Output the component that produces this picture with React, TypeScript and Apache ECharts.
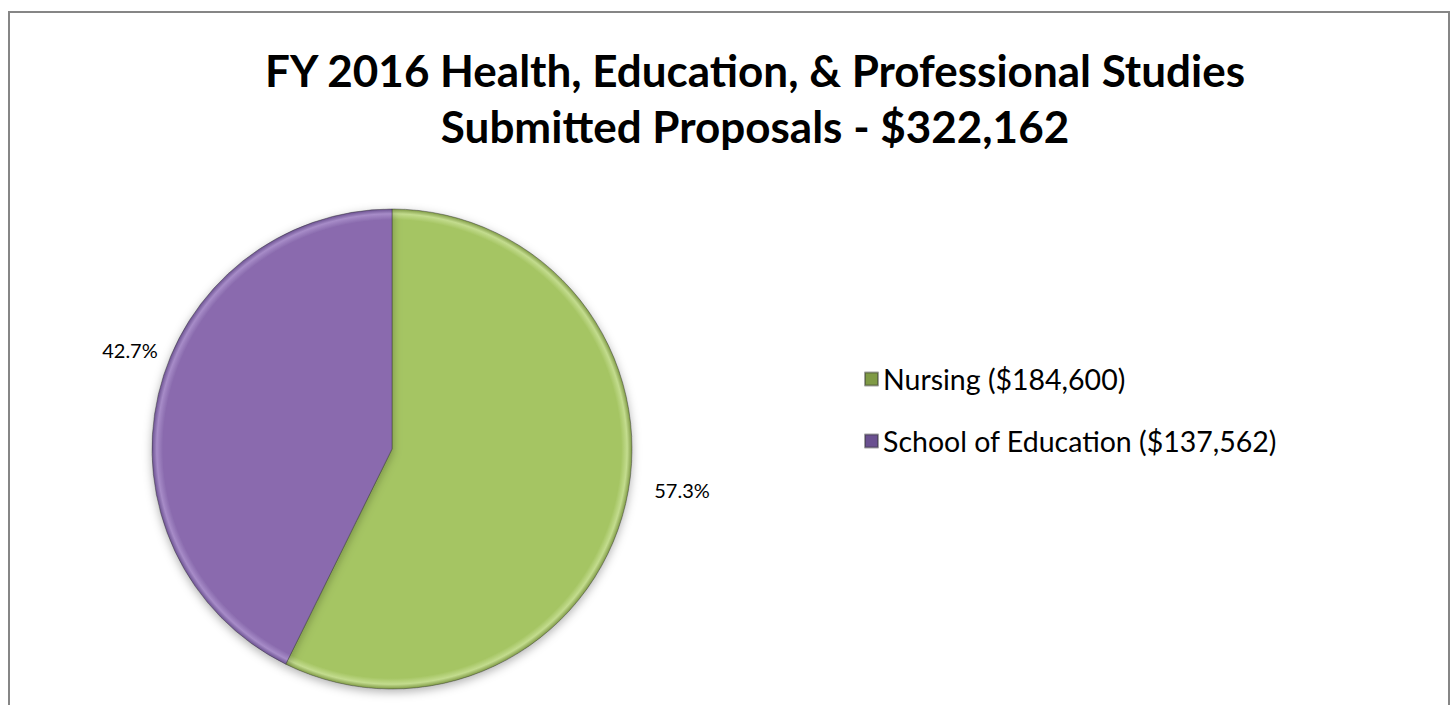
import React, { useEffect, useRef } from "react";
import * as echarts from "echarts";

const titleLines = [
  "FY 2016 Health, Education, & Professional Studies",
  "Submitted Proposals - $322,162",
];
const categories = ["Nursing", "School of Education"];
const amounts = [184600, 137562];
const sliceColors = ["#A5C563", "#8A6BAE"];
const rimLight = ["#C3DC8E", "#A78CC8"];
const rimDark = ["#7F9A45", "#6A5090"];

const FONT = "Lato, 'Noto Sans', sans-serif";
const CX = 392;
const CY = 449;
const R = 240;

export default function App() {
  const ref = useRef<HTMLDivElement>(null);

  useEffect(() => {
    document.body.style.margin = "0";
    if (!ref.current) return;
    const chart = echarts.init(ref.current, undefined, { renderer: "svg" });
    const total = amounts.reduce((a, b) => a + b, 0);
    const fmtMoney = (v: number) => "$" + v.toLocaleString("en-US");

    const fill = (i: number) => ({
      type: "radial",
      x: CX,
      y: CY,
      r: R,
      global: true,
      colorStops: [
        { offset: 0, color: sliceColors[i] },
        { offset: 0.955, color: sliceColors[i] },
        { offset: 0.98, color: rimLight[i] },
        { offset: 1, color: rimDark[i] },
      ],
    });

    chart.setOption({
      animation: false,
      backgroundColor: "#ffffff",
      title: {
        text: titleLines.join("\n"),
        left: 750,
        top: 37,
        textAlign: "center",
        textStyle: {
          fontFamily: FONT,
          fontWeight: "bold",
          fontSize: 44,
          lineHeight: 56,
          color: "#000000",
        },
      },
      legend: {
        orient: "vertical",
        left: 859,
        top: 359,
        icon: "rect",
        itemWidth: 13,
        itemHeight: 13,
        itemGap: 32,
        selectedMode: false,
        data: categories,
        formatter: (name: string) => {
          const i = categories.indexOf(name);
          return `${name} (${fmtMoney(amounts[i])})`;
        },
        textStyle: {
          fontFamily: FONT,
          fontSize: 28.5,
          lineHeight: 30,
          color: "#000000",
        },
      },
      graphic: [
        {
          type: "rect",
          shape: { x: 9, y: 12, width: 1440, height: 760 },
          style: { fill: "none", stroke: "#868686", lineWidth: 2 },
          silent: true,
          z: 0,
        },
      ],
      series: [
        {
          type: "pie",
          center: [CX, CY],
          radius: R,
          startAngle: 90,
          clockwise: true,
          avoidLabelOverlap: false,
          data: categories.map((name, i) => ({
            name,
            value: amounts[i],
            itemStyle: { color: fill(i) },
          })),
          itemStyle: {
            borderColor: "rgba(50,50,50,0.45)",
            borderWidth: 1,
            shadowBlur: 10,
            shadowColor: "rgba(0,0,0,0.3)",
            shadowOffsetY: 3,
          },
          label: {
            show: true,
            position: "outside",
            formatter: (p: any) => ((p.value / total) * 100).toFixed(1) + "%",
            fontFamily: FONT,
            fontSize: 20,
            color: "#000000",
          },
          labelLine: { show: false, length: 18, length2: 0 },
          labelLayout: (p: any) =>
            p.dataIndex === 0 ? { dx: 6, dy: -18 } : { dx: 22, dy: -40 },
          emphasis: { disabled: true },
        },
      ],
    });
    return () => chart.dispose();
  }, []);

  return <div ref={ref} style={{ width: 1452, height: 705 }} />;
}
